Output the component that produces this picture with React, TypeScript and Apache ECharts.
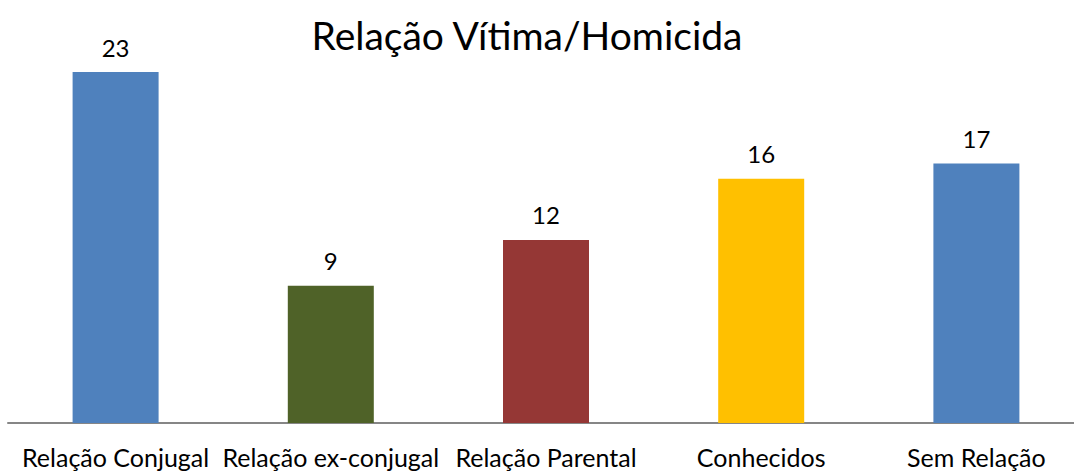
import React, { useEffect, useRef } from "react";
import * as echarts from "echarts";

const titleText = "Relação Vítima/Homicida";
const categories = [
  "Relação Conjugal",
  "Relação ex-conjugal",
  "Relação Parental",
  "Conhecidos",
  "Sem Relação",
];
const values = [23, 9, 12, 16, 17];
const barColors = ["#4F81BD", "#4F6228", "#953735", "#FFC000", "#4F81BD"];

const FONT = "Lato, 'Open Sans', sans-serif";

export default function App() {
  const ref = useRef<HTMLDivElement>(null);
  useEffect(() => {
    if (!ref.current) return;
    const chart = echarts.init(ref.current, null, { renderer: "svg" });
    chart.setOption({
      animation: false,
      backgroundColor: "#ffffff",
      title: {
        text: titleText,
        left: 522,
        top: 10,
        textAlign: "center",
        textStyle: {
          fontFamily: FONT,
          fontSize: 39,
          fontWeight: "normal",
          color: "#000000",
        },
      },
      grid: { left: 8, top: 41.5, width: 1076, height: 381.5 },
      xAxis: {
        type: "category",
        data: categories,
        axisLine: { show: true, lineStyle: { color: "#868686", width: 2 } },
        axisTick: { show: false },
        axisLabel: {
          interval: 0,
          margin: 21,
          fontFamily: FONT,
          fontSize: 25,
          color: "#000000",
        },
      },
      yAxis: {
        type: "value",
        min: 0,
        max: 25,
        show: false,
        splitLine: { show: false },
      },
      series: [
        {
          type: "bar",
          barWidth: 86,
          data: values.map((v, i) => ({
            value: v,
            itemStyle: { color: barColors[i] },
          })),
          label: {
            show: true,
            position: "top",
            distance: 13,
            fontFamily: FONT,
            fontSize: 24,
            color: "#000000",
          },
        },
      ],
    });
    return () => chart.dispose();
  }, []);
  return (
    <div
      style={{
        position: "absolute",
        left: 0,
        top: 0,
        width: 1074,
        height: 471,
        overflow: "hidden",
        background: "#fff",
      }}
    >
      <div ref={ref} style={{ width: 1092, height: 471 }} />
    </div>
  );
}
